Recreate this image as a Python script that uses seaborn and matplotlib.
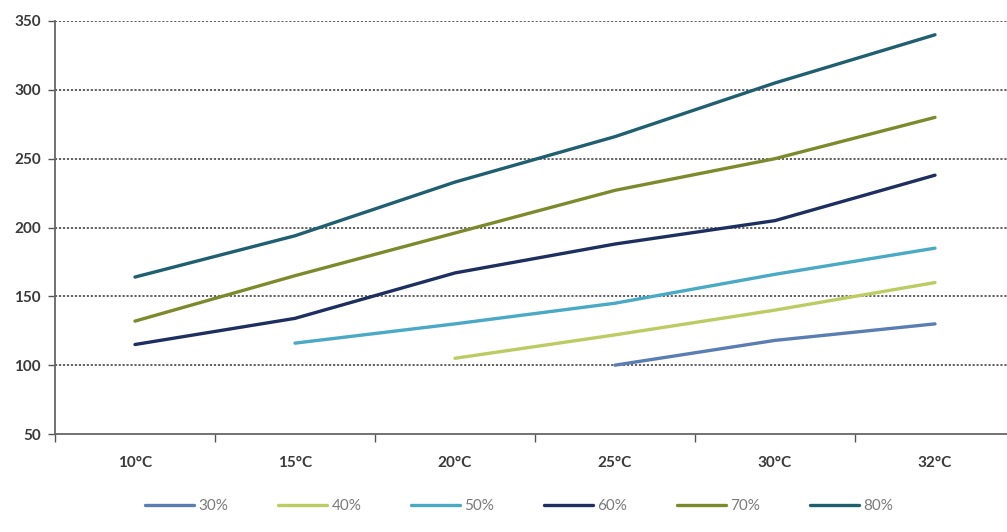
import numpy as np
import pandas as pd
import seaborn as sns
import matplotlib
matplotlib.use("Agg")
import matplotlib.pyplot as plt
from matplotlib.ticker import FixedLocator

# Temperature categories and humidity series
temps = ["10°C", "15°C", "20°C", "25°C", "30°C", "32°C"]
series_names = ["30%", "40%", "50%", "60%", "70%", "80%"]
nan = np.nan
rh30 = [nan, nan, nan, 100, 118, 130]
rh40 = [nan, nan, 105, 122, 140, 160]
rh50 = [nan, 116, 130, 145, 166, 185]
rh60 = [115, 134, 167, 188, 205, 238]
rh70 = [132, 165, 196, 227, 250, 280]
rh80 = [164, 194, 233, 266, 305, 340]
colors = ["#5a7db4", "#bccb62", "#4aa9c4", "#1d2f5e", "#7d8a2c", "#1f5f70"]

values = [rh30, rh40, rh50, rh60, rh70, rh80]
rows = []
for name, vals in zip(series_names, values):
    for i, v in enumerate(vals):
        rows.append({"pos": i, "value": v, "series": name})
df = pd.DataFrame(rows)

sns.set_theme(style="white")
plt.rcParams["font.family"] = ["Lato", "DejaVu Sans"]

fig = plt.figure(figsize=(10.07, 5.32), dpi=100)
ax = fig.add_axes([55 / 1007, 98 / 532, 960 / 1007, 413 / 532])

sns.lineplot(data=df, x="pos", y="value", hue="series", hue_order=series_names,
             palette=colors, linewidth=2.4, ax=ax, legend=True, sort=False)

ax.set_xlim(-0.5, 5.5)
ax.set_ylim(50, 350)
ax.set_yticks([50, 100, 150, 200, 250, 300, 350])
ax.set_xticks(range(len(temps)))
ax.set_xticklabels(temps)
ax.xaxis.set_minor_locator(FixedLocator(np.arange(-0.5, 5.6, 1)))
ax.tick_params(axis="x", which="major", length=0, pad=16, labelsize=11, labelcolor="#3a3a3a")
ax.tick_params(axis="x", which="minor", length=6, width=1, color="#555555", direction="out", bottom=True)
ax.tick_params(axis="y", which="major", length=5, width=1, color="#555555", direction="out",
               left=True, labelsize=11, labelcolor="#3a3a3a", pad=5)
for lab in ax.get_xticklabels() + ax.get_yticklabels():
    lab.set_fontweight("bold")

for yv in [100, 150, 200, 250, 300, 350]:
    ax.axhline(yv, color="#555555", linestyle=(0, (1.2, 1.0)), linewidth=1.3, zorder=0)

for side in ["top", "right"]:
    ax.spines[side].set_visible(False)
for side in ["left", "bottom"]:
    ax.spines[side].set_color("#666666")
    ax.spines[side].set_linewidth(1.3)

ax.set_xlabel("")
ax.set_ylabel("")

handles, labels = ax.get_legend_handles_labels()
ax.legend(handles, labels, loc="center", bbox_to_anchor=(0.5 + (519 - 535) / 960, -0.175),
          ncol=6, frameon=False, handlelength=3.2, handletextpad=0.3, columnspacing=3.25,
          fontsize=11, labelcolor="#7a7a7a")

fig.savefig("out.png", dpi=100, facecolor="white")
